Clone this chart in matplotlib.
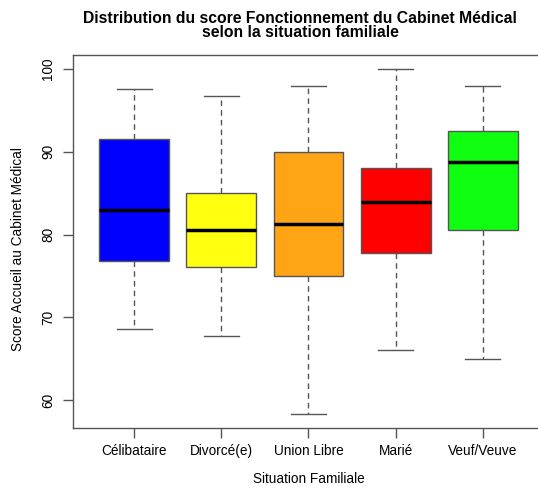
import matplotlib
matplotlib.use("Agg")
import matplotlib.pyplot as plt

plt.rcParams['font.family'] = ['Liberation Sans', 'DejaVu Sans']

categories = ['Célibataire', 'Divorcé(e)', 'Union Libre', 'Marié', 'Veuf/Veuve']
whisker_low = [68.6, 67.8, 58.3, 66.1, 65.0]
q1 = [76.8, 76.1, 75.0, 77.8, 80.6]
medians = [83.0, 80.6, 81.3, 83.9, 88.8]
q3 = [91.5, 85.0, 90.0, 88.0, 92.5]
whisker_high = [97.6, 96.8, 97.9, 100.0, 97.9]
colors = ['#0000ff', '#ffff10', '#ffa515', '#ff0000', '#10ff10']
yticks = [60, 70, 80, 90, 100]

stats = []
for i, name in enumerate(categories):
    stats.append({'label': name, 'whislo': whisker_low[i], 'q1': q1[i],
                  'med': medians[i], 'q3': q3[i], 'whishi': whisker_high[i],
                  'fliers': []})

W, H = 538, 488
fig = plt.figure(figsize=(W / 100, H / 100), dpi=100)
ax_h = 428.3 - 55
ax = fig.add_axes([73 / W, 1 - 428.3 / H, (544 - 73) / W, ax_h / H])

edge = '#555555'
bp = ax.bxp(stats, positions=range(1, 6), widths=0.8, patch_artist=True,
            showfliers=False,
            boxprops=dict(edgecolor=edge, linewidth=1.0),
            whiskerprops=dict(color=edge, linestyle=(0, (4, 3)), linewidth=1.0),
            capprops=dict(color=edge, linewidth=1.0),
            medianprops=dict(color='black', linewidth=2.5, solid_capstyle='butt'),
            capwidths=0.4)
for patch, c in zip(bp['boxes'], colors):
    patch.set_facecolor(c)

ax.set_xlim(0.3, 5.7)
ax.set_ylim(56.6, 101.7)
ax.set_yticks(yticks)
ax.set_yticklabels([str(v) for v in yticks], rotation=90, va='center', ha='center')
ax.set_xticks(range(1, 6))
ax.set_xticklabels(categories)

for s in ax.spines.values():
    s.set_color(edge)
    s.set_linewidth(1.0)
ax.tick_params(axis='both', length=7, width=1.0, color=edge, labelsize=9.8)
ax.tick_params(axis='x', pad=4)
ax.tick_params(axis='y', pad=11)

ax.set_xlabel('Situation Familiale', fontsize=9.8, va='center')
ax.xaxis.set_label_coords(0.5, -(479 - 428.3) / ax_h)
ax.set_ylabel('Score Accueil au Cabinet Médical', fontsize=9.8, va='center')
ax.yaxis.set_label_coords(-(73 - 18) / 471, 0.48)

fig.text(300 / W, 1 - 18.5 / H, 'Distribution du score Fonctionnement du Cabinet Médical',
         ha='center', va='center', fontsize=11.3, fontweight='bold')
fig.text(300 / W, 1 - 32.5 / H, 'selon la situation familiale',
         ha='center', va='center', fontsize=11.3, fontweight='bold')

fig.savefig('out.png', dpi=100)
